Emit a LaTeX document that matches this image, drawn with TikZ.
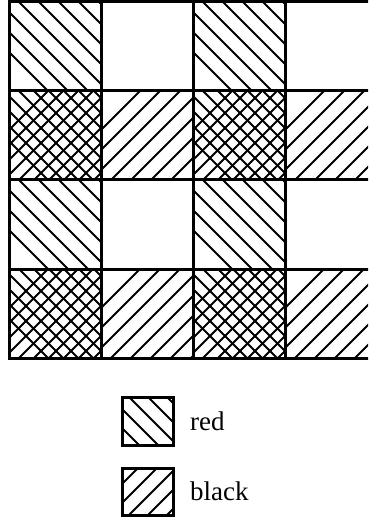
\documentclass[tikz,border=0pt]{standalone}
\usepackage{fontspec}
\setmainfont{Liberation Serif}
\tikzset{
  gridline/.style={line width=3pt, line cap=rect},
  hatchline/.style={line width=2.1pt},
  legtext/.style={anchor=west, inner sep=0pt, font=\fontsize{27}{30}\selectfont},
}
% #1 x0, #2 y0, #3 w, #4 h, #5 spacing
\newcommand{\redhatch}[5]{%
  \begin{scope}
    \pgfmathsetmacro{\hx}{#1}%
    \pgfmathsetmacro{\hy}{#2}%
    \clip (\hx,\hy) rectangle ++(#3,#4);
    \foreach \i in {0,...,30}{
      \pgfmathsetmacro{\k}{-150+\i*#5}
      \draw[hatchline] (\hx+\k,\hy-100) -- ++(300,300);
    }
  \end{scope}}
\newcommand{\blackhatch}[5]{%
  \begin{scope}
    \pgfmathsetmacro{\hx}{#1}%
    \pgfmathsetmacro{\hy}{#2}%
    \clip (\hx,\hy) rectangle ++(#3,#4);
    \foreach \i in {0,...,30}{
      \pgfmathsetmacro{\k}{-150+\i*#5}
      \draw[hatchline] (\hx+\k,\hy+#4+100) -- ++(300,-300);
    }
  \end{scope}}
\begin{document}
\begin{tikzpicture}[x=1pt,y=-1pt]
  \useasboundingbox (0,0) rectangle (368,518);
  \fill[white] (0,0) rectangle (368,518);
  \begin{scope}
    \clip (0,0) rectangle (368,518);
    % cells
    \foreach \r in {0,2}{
      \foreach \c in {0,2}{
        \redhatch{9+92*\c}{2+89*\r}{92}{89}{20}
      }
    }
    \foreach \r in {1,3}{
      \foreach \c in {0,2}{
        \redhatch{9+92*\c}{2+89*\r}{92}{89}{15}
        \blackhatch{9+92*\c}{2+89*\r}{92}{89}{15}
      }
      \foreach \c in {1,3}{
        \blackhatch{9+92*\c}{2+89*\r}{92}{89}{20}
      }
    }
    % grid lines
    \foreach \r in {0,...,4}{
      \draw[gridline] (9,2+89*\r) -- (380,2+89*\r);
    }
    \foreach \c in {0,...,3}{
      \draw[gridline] (9+92*\c,2) -- (9+92*\c,358);
    }
  \end{scope}
  % legend
  \redhatch{122}{397}{51}{48}{19}
  \draw[gridline] (122,397) rectangle ++(51,48);
  \blackhatch{122}{468}{51}{47}{19}
  \draw[gridline] (122,468) rectangle ++(51,47);
  \node[legtext] (red) at (190,421) {red};
  \node[legtext] (black) at (190,491) {black};
\end{tikzpicture}
\end{document}
